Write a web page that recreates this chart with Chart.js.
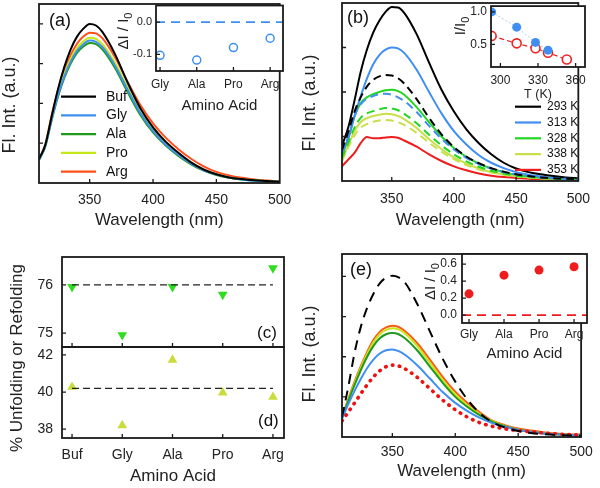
<!DOCTYPE html>
<html lang="en">
<head>
<meta charset="UTF-8" />
<title>Fluorescence panels</title>
<script src="https://cdn.jsdelivr.net/npm/chart.js@4.4.1/dist/chart.umd.min.js"></script>
<style>
  body { margin: 0; background: #fff; }
  #fig { position: relative; width: 600px; height: 488px; overflow: hidden; }
  #fig canvas { position: absolute; }
</style>
</head>
<body>
<div id="fig">
  <canvas id="a-main" width="300" height="244" style="left:0px;top:0px"></canvas>
  <canvas id="a-inset" width="190" height="120" style="left:110px;top:0px"></canvas>
  <canvas id="b-main" width="300" height="244" style="left:300px;top:0px"></canvas>
  <canvas id="b-inset" width="160" height="102" style="left:440px;top:0px"></canvas>
  <canvas id="c-main" width="300" height="244" style="left:0px;top:244px"></canvas>
  <canvas id="d-main" width="300" height="244" style="left:0px;top:244px"></canvas>
  <canvas id="e-main" width="300" height="244" style="left:300px;top:244px"></canvas>
  <canvas id="e-inset" width="200" height="130" style="left:400px;top:244px"></canvas>
</div>
<script>
// ---- data ----
const wavelength = [310,315,320,325,330,335,340,345,350,355,360,370,380,390,400,410,420,430,440,450,460,470,480,490,500];
const spectrumTicks = [350, 400, 450, 500];

// (a) spectra in buffer and with amino acids
const aBuf = [0.60,0.96,1.68,2.36,2.92,3.36,3.68,3.88,4.00,3.96,3.80,3.24,2.52,1.88,1.40,1.04,0.76,0.52,0.34,0.22,0.14,0.10,0.07,0.05,0.03];
const aGly = [0.58,0.93,1.60,2.20,2.68,3.05,3.32,3.49,3.58,3.55,3.42,2.95,2.34,1.76,1.31,0.97,0.71,0.49,0.32,0.21,0.14,0.09,0.06,0.04,0.03];
const aAla = [0.57,0.92,1.58,2.17,2.64,3.00,3.27,3.43,3.52,3.49,3.36,2.89,2.28,1.71,1.27,0.94,0.68,0.47,0.31,0.20,0.13,0.09,0.06,0.04,0.03];
const aPro = [0.58,0.94,1.63,2.25,2.74,3.12,3.39,3.56,3.65,3.62,3.49,3.02,2.40,1.80,1.34,0.99,0.72,0.50,0.33,0.22,0.14,0.10,0.07,0.05,0.03];
const aArg = [0.60,0.98,1.70,2.34,2.84,3.22,3.50,3.68,3.78,3.76,3.64,3.16,2.54,1.96,1.50,1.14,0.85,0.61,0.42,0.28,0.19,0.13,0.09,0.06,0.04];
const acids = ['Gly', 'Ala', 'Pro', 'Arg'];
const aDelta = [-0.103, -0.118, -0.079, -0.050];

// (b) heating (solid) and back at 293 K (dashed)
const b293 = [0.80,1.20,1.80,2.45,2.95,3.33,3.60,3.80,3.91,3.90,3.78,3.30,2.66,2.05,1.56,1.16,0.85,0.60,0.41,0.28,0.20,0.15,0.11,0.08,0.06];
const b313 = [0.64,0.95,1.45,1.90,2.30,2.62,2.83,2.95,3.00,2.98,2.88,2.50,2.00,1.52,1.12,0.82,0.58,0.41,0.29,0.20,0.14,0.10,0.07,0.05,0.04];
const b328 = [0.58,0.95,1.45,1.75,1.88,1.95,2.00,2.04,2.05,2.02,1.94,1.66,1.32,1.00,0.74,0.54,0.39,0.28,0.20,0.14,0.10,0.08,0.06,0.04,0.03];
const b338 = [0.48,0.80,1.12,1.32,1.41,1.46,1.49,1.51,1.50,1.46,1.39,1.19,0.94,0.72,0.53,0.39,0.28,0.20,0.15,0.11,0.08,0.06,0.05,0.04,0.03];
const b353 = [0.33,0.48,0.63,0.85,0.99,0.96,0.96,0.98,0.99,0.97,0.91,0.77,0.60,0.45,0.33,0.24,0.17,0.12,0.09,0.07,0.05,0.04,0.03,0.03,0.02];
const b293back = [0.70,1.10,1.55,1.88,2.12,2.27,2.35,2.38,2.37,2.31,2.19,1.84,1.42,1.05,0.76,0.55,0.40,0.29,0.21,0.15,0.11,0.08,0.06,0.05,0.04];
const b313back = [0.62,1.00,1.45,1.72,1.85,1.91,1.95,1.96,1.94,1.88,1.80,1.55,1.24,0.95,0.71,0.52,0.38,0.28,0.20,0.15,0.11,0.08,0.06,0.05,0.04];
const b328back = [0.52,0.85,1.20,1.42,1.52,1.57,1.61,1.64,1.63,1.59,1.51,1.30,1.04,0.80,0.60,0.44,0.32,0.23,0.17,0.12,0.09,0.07,0.05,0.04,0.03];
const b338back = [0.45,0.75,1.02,1.20,1.28,1.33,1.36,1.37,1.36,1.32,1.26,1.08,0.86,0.66,0.49,0.36,0.26,0.19,0.14,0.10,0.08,0.06,0.04,0.03,0.03];
const temps = [293, 313, 328, 338, 353];
const bFilled = [1.00, 0.765, 0.53, 0.41];
const bOpen = [0.63, 0.515, 0.44, 0.37, 0.265];

// (c) unfolding, (d) refolding
const cdAcids = ['Buf', 'Gly', 'Ala', 'Pro', 'Arg'];
const cUnfold = [75.96, 74.96, 75.96, 75.80, 76.35];
const dRefold = [40.27, 38.20, 41.73, 39.97, 39.73];
const cBuffer = 76.0;
const dBuffer = 40.2;

// (e) refolded spectra
const eNative = [0.50,1.25,2.10,2.75,3.22,3.57,3.83,3.97,4.02,3.98,3.85,3.30,2.62,1.95,1.38,0.92,0.58,0.36,0.23,0.15,0.10,0.07,0.05,0.04,0.03];
const eDenat = [0.40,0.62,0.85,1.08,1.30,1.50,1.65,1.75,1.79,1.77,1.70,1.48,1.20,0.92,0.68,0.49,0.35,0.26,0.20,0.16,0.13,0.10,0.08,0.06,0.05];
const eGly = [0.45,0.82,1.15,1.45,1.72,1.93,2.08,2.16,2.18,2.14,2.05,1.78,1.45,1.12,0.85,0.64,0.47,0.34,0.25,0.18,0.13,0.09,0.07,0.05,0.04];
const eAla = [0.47,0.90,1.30,1.67,2.00,2.27,2.46,2.56,2.59,2.56,2.46,2.15,1.75,1.35,1.00,0.74,0.53,0.37,0.26,0.18,0.13,0.09,0.07,0.05,0.04];
const ePro = [0.48,0.92,1.34,1.73,2.07,2.36,2.56,2.67,2.71,2.68,2.58,2.26,1.84,1.42,1.06,0.78,0.56,0.39,0.27,0.19,0.13,0.10,0.07,0.05,0.04];
const eArg = [0.50,0.95,1.38,1.77,2.12,2.42,2.62,2.73,2.77,2.74,2.64,2.33,1.92,1.50,1.13,0.84,0.60,0.40,0.29,0.21,0.16,0.12,0.09,0.07,0.06];
const eDelta = [0.25, 0.47, 0.53, 0.57];

// ---- drawing ----
const FONT = "'Liberation Sans', Arial, sans-serif";
Chart.defaults.font.family = FONT;
Chart.defaults.color = '#222';
Chart.defaults.animation = false;
Chart.defaults.responsive = false;
Chart.defaults.plugins.legend.display = false;
Chart.defaults.plugins.tooltip.enabled = false;

const xy = (xs, ys) => ys.map((v, i) => ({ x: xs[i], y: v }));
const idx = ys => ys.map((v, i) => ({ x: i, y: v }));

// box around the plot plus inward tick marks
const frame = {
  id: 'frame',
  beforeDraw(chart, args, o) {
    if (!o.fill) return;
    const a = chart.chartArea;
    chart.ctx.save();
    chart.ctx.fillStyle = '#fff';
    chart.ctx.fillRect(a.left, a.top, a.right - a.left, a.bottom - a.top);
    chart.ctx.restore();
  },
  afterDatasetsDraw(chart) {
    const { ctx, chartArea: a, scales } = chart;
    ctx.save();
    ctx.strokeStyle = '#1a1a1a';
    ctx.lineWidth = 1.3;
    ctx.beginPath();
    for (const t of scales.x.ticks) {
      const p = scales.x.getPixelForValue(t.value);
      if (p > a.left + 2 && p < a.right - 2) { ctx.moveTo(p, a.bottom); ctx.lineTo(p, a.bottom - 4); }
    }
    for (const t of scales.y.ticks) {
      const p = scales.y.getPixelForValue(t.value);
      if (p > a.top + 2 && p < a.bottom - 2) { ctx.moveTo(a.left, p); ctx.lineTo(a.left + 4, p); }
    }
    ctx.stroke();
    ctx.lineWidth = 1.8;
    ctx.strokeRect(a.left, a.top, a.right - a.left, a.bottom - a.top);
    ctx.restore();
  }
};

// full-width horizontal reference line
const refLine = {
  id: 'refLine',
  beforeDatasetsDraw(chart, args, o) {
    if (o.value === undefined) return;
    const { ctx, chartArea: a, scales } = chart;
    const p = scales.y.getPixelForValue(o.value);
    ctx.save();
    ctx.strokeStyle = o.color;
    ctx.lineWidth = 1.8;
    ctx.setLineDash(o.dash);
    ctx.beginPath();
    ctx.moveTo(a.left, p);
    ctx.lineTo(a.right, p);
    ctx.stroke();
    ctx.restore();
  }
};

// panel letters like (a)
const tag = {
  id: 'tag',
  afterDraw(chart, args, o) {
    if (!o.text) return;
    const ctx = chart.ctx;
    ctx.save();
    ctx.fillStyle = '#111';
    ctx.font = (o.size || 18) + 'px ' + FONT;
    ctx.textBaseline = 'middle';
    ctx.fillText(o.text, o.x, o.y);
    ctx.restore();
  }
};

// rotated axis titles, with optional subscript
const vtitle = {
  id: 'vtitle',
  afterDraw(chart, args, o) {
    if (!o.text) return;
    const ctx = chart.ctx;
    const size = o.size || 18, ss = Math.round(size * 0.7), sub = o.sub || '';
    ctx.save();
    ctx.translate(o.x, o.y);
    ctx.rotate(-Math.PI / 2);
    ctx.fillStyle = '#222';
    ctx.textBaseline = 'middle';
    ctx.font = size + 'px ' + FONT;
    const w1 = ctx.measureText(o.text).width;
    ctx.font = ss + 'px ' + FONT;
    const w2 = sub ? ctx.measureText(sub).width : 0;
    const x0 = -(w1 + w2) / 2;
    ctx.font = size + 'px ' + FONT;
    ctx.fillText(o.text, x0, 0);
    if (sub) {
      ctx.font = ss + 'px ' + FONT;
      ctx.fillText(sub, x0 + w1, size * 0.32);
    }
    ctx.restore();
  }
};

// legend of line samples inside the plot
const key = {
  id: 'key',
  afterDatasetsDraw(chart, args, o) {
    if (!o.items) return;
    const ctx = chart.ctx;
    ctx.save();
    o.items.forEach((i, k) => {
      const ds = chart.data.datasets[i];
      const y = o.y0 + k * o.dy;
      ctx.strokeStyle = ds.borderColor;
      ctx.lineWidth = 2.2;
      ctx.beginPath();
      ctx.moveTo(o.x0, y);
      ctx.lineTo(o.x1, y);
      ctx.stroke();
      ctx.fillStyle = '#111';
      ctx.font = o.size + 'px ' + FONT;
      ctx.textBaseline = 'middle';
      ctx.fillText(ds.label, o.tx, y);
    });
    ctx.restore();
  }
};

const plugs = [frame, refLine, tag, vtitle, key];

function fixedTicks(values) {
  return s => { s.ticks = values.map(v => ({ value: v })); };
}
function fitX(h) {
  return s => { s.height = h; };
}
// no extra room above/below for the end labels: the box stays where the padding puts it
function fitY(w) {
  return s => { s.width = w; s.paddingTop = 0; s.paddingBottom = 0; };
}

function line(label, ys, color, extra) {
  return Object.assign({
    label, data: xy(wavelength, ys), borderColor: color, borderWidth: 2,
    pointRadius: 0, cubicInterpolationMode: 'monotone', fill: false
  }, extra || {});
}

function spectrum(id, sets, o) {
  return new Chart(document.getElementById(id), {
    type: 'line',
    data: { datasets: sets },
    options: {
      layout: { padding: { top: o.top, right: o.right, left: 0, bottom: 0 } },
      plugins: { tag: o.tag, vtitle: o.vtitle, key: o.key || {} },
      scales: {
        x: {
          type: 'linear', min: 310, max: 500,
          afterBuildTicks: fixedTicks(spectrumTicks),
          afterFit: fitX(o.xh),
          grid: { display: false, drawTicks: false }, border: { display: false },
          ticks: { font: { size: 14 }, padding: o.tickPad, maxRotation: 0, color: '#222' },
          title: { display: true, text: 'Wavelength (nm)', font: { size: 17 }, color: '#222',
                   padding: { top: 0, bottom: o.titlePad } }
        },
        y: {
          type: 'linear', min: 0, max: o.ymax,
          afterBuildTicks: fixedTicks(o.yticks),
          afterFit: fitY(o.yw),
          grid: { display: false, drawTicks: false }, border: { display: false },
          ticks: { display: false }
        }
      }
    },
    plugins: plugs
  });
}

function catAxis(labels, min, max, o) {
  return {
    type: 'linear', min, max,
    afterBuildTicks: fixedTicks(labels.map((l, i) => i)),
    afterFit: fitX(o.h),
    grid: { display: false, drawTicks: false }, border: { display: false },
    ticks: { display: o.show !== false, callback: v => labels[v], font: { size: o.size },
             padding: o.pad, maxRotation: 0, autoSkip: false, color: '#222' },
    title: { display: !!o.title, text: o.title, font: { size: o.tsize }, color: '#222',
             padding: { top: 0, bottom: o.tpad } }
  };
}

function valAxis(min, max, ticks, o) {
  return {
    type: 'linear', min, max,
    afterBuildTicks: fixedTicks(ticks),
    afterFit: fitY(o.w),
    grid: { display: false, drawTicks: false }, border: { display: false },
    ticks: { font: { size: o.size }, padding: o.pad, color: '#222', autoSkip: false,
             callback: v => Number(v).toFixed(o.dec) }
  };
}

// (a)
const BLUE = '#3f8ff2';
spectrum('a-main', [
  line('Buf', aBuf, '#000'),
  line('Gly', aGly, BLUE),
  line('Ala', aAla, '#1f9a1f'),
  line('Pro', aPro, '#c6e61a'),
  line('Arg', aArg, '#ff4e1c')
], {
  top: 4, right: 17, yw: 39, xh: 61, ymax: 4.5, yticks: [1, 2, 3, 4], tickPad: 8.6, titlePad: 13.8,
  tag: { text: '(a)', x: 49, y: 21.5 },
  vtitle: { text: 'Fl. Int. (a.u.)', x: 10, y: 105 },
  key: { items: [0, 1, 2, 3, 4], x0: 61, x1: 96, tx: 106, y0: 96.7, dy: 18.75, size: 14 }
});

new Chart(document.getElementById('a-inset'), {
  type: 'scatter',
  data: { datasets: [{
    data: idx(aDelta), pointRadius: 4, pointBorderWidth: 1.5,
    pointBorderColor: BLUE, pointBackgroundColor: '#fff'
  }] },
  options: {
    layout: { padding: { top: 4, right: 17, left: 0, bottom: 0 } },
    plugins: {
      frame: { fill: true },
      refLine: { value: 0, color: BLUE, dash: [9, 6] },
      vtitle: { text: 'ΔI / I', sub: '0', x: 14, y: 31, size: 15 }
    },
    scales: {
      x: catAxis(acids, -0.11, 3.35, { h: 49, size: 12, pad: 6.8, title: 'Amino Acid', tsize: 15, tpad: 5 }),
      y: valAxis(-0.152, 0.052, [-0.1, 0], { w: 46, size: 11, pad: 4, dec: 1 })
    }
  },
  plugins: plugs
});

// (b)
spectrum('b-main', [
  line('293 K back', b293back, '#000', { borderDash: [8, 5] }),
  line('313 K back', b313back, BLUE, { borderDash: [8, 5] }),
  line('328 K back', b328back, '#22d622', { borderDash: [8, 5] }),
  line('338 K back', b338back, '#c8df4a', { borderDash: [8, 5] }),
  line('293 K', b293, '#000'),
  line('313 K', b313, BLUE),
  line('328 K', b328, '#22d622'),
  line('338 K', b338, '#c8df4a'),
  line('353 K', b353, '#ee1c1c')
], {
  top: 3, right: 13, yw: 42, xh: 63, ymax: 4, yticks: [1, 2, 3], tickPad: 10, titlePad: 13.8,
  tag: { text: '(b)', x: 47, y: 18.5 },
  vtitle: { text: 'Fl. Int. (a.u.)', x: 10, y: 103 },
  key: { items: [4, 5, 6, 7, 8], x0: 215, x1: 241, tx: 247, y0: 106.7, dy: 15.8, size: 12 }
});

new Chart(document.getElementById('b-inset'), {
  type: 'scatter',
  data: { datasets: [
    { data: xy(temps, bFilled), showLine: true, borderColor: '#a9cdf3', borderWidth: 1, borderDash: [2, 2],
      pointRadius: 4.5, pointBorderWidth: 0, pointBackgroundColor: BLUE },
    { data: xy(temps, bOpen), showLine: true, borderColor: '#ee2222', borderWidth: 1.2, borderDash: [5, 3],
      pointRadius: 4.5, pointBorderWidth: 1.6, pointBorderColor: '#ee2222', pointBackgroundColor: '#fff' }
  ] },
  options: {
    layout: { padding: { top: 3, right: 15, left: 0, bottom: 0 } },
    plugins: {
      frame: { fill: true },
      vtitle: { text: 'I/I', sub: '0', x: 21, y: 26, size: 15 }
    },
    scales: {
      x: {
        type: 'linear', min: 292.5, max: 367.5,
        afterBuildTicks: fixedTicks([300, 330, 360]),
        afterFit: fitX(35),
        grid: { display: false, drawTicks: false }, border: { display: false },
        ticks: { font: { size: 12 }, padding: 6, maxRotation: 0, color: '#222' },
        title: { display: true, text: 'T (K)', font: { size: 12.5 }, color: '#222', padding: { top: 0, bottom: 0 } }
      },
      y: valAxis(0.15, 1.09, [0.5, 1.0], { w: 51, size: 12, pad: 4, dec: 1 })
    }
  },
  plugins: plugs
});

// (c) and (d), stacked over each other
const GREEN_C = '#2fdc1e';
const YEL_D = '#c9dc3c';
new Chart(document.getElementById('c-main'), {
  type: 'scatter',
  data: { datasets: [
    { data: cdAcids.map((a, i) => ({ x: i, y: cBuffer })), showLine: true, borderColor: '#222',
      borderWidth: 1.3, borderDash: [7, 4], pointRadius: 0 },
    { data: idx(cUnfold), pointStyle: 'triangle', rotation: 180, pointRadius: 5.6,
      pointBackgroundColor: GREEN_C, pointBorderColor: GREEN_C, pointBorderWidth: 0 }
  ] },
  options: {
    layout: { padding: { top: 13, right: 16, left: 0, bottom: 0 } },
    plugins: { tag: { text: '(c)', x: 257, y: 89.5, size: 17 } },
    scales: {
      x: catAxis(cdAcids, -0.2, 4.22, { h: 141, show: false }),
      y: valAxis(74.71, 76.58, [75, 76], { w: 62, size: 14, pad: 9, dec: 0 })
    }
  },
  plugins: plugs
});

new Chart(document.getElementById('d-main'), {
  type: 'scatter',
  data: { datasets: [
    { data: cdAcids.map((a, i) => ({ x: i, y: dBuffer })), showLine: true, borderColor: '#222',
      borderWidth: 1.3, borderDash: [7, 4], pointRadius: 0 },
    { data: idx(dRefold), pointStyle: 'triangle', pointRadius: 5.6,
      pointBackgroundColor: YEL_D, pointBorderColor: YEL_D, pointBorderWidth: 0 }
  ] },
  options: {
    layout: { padding: { top: 103, right: 16, left: 0, bottom: 0 } },
    plugins: {
      tag: { text: '(d)', x: 258, y: 177.5, size: 17 },
      vtitle: { text: '% Unfolding or Refolding', x: 17, y: 114, size: 17 }
    },
    scales: {
      x: catAxis(cdAcids, -0.2, 4.22, { h: 50, size: 14, pad: 8.6, title: 'Amino Acid', tsize: 17, tpad: 1.8 }),
      y: valAxis(37.52, 42.43, [38, 40, 42], { w: 62, size: 14, pad: 9, dec: 0 })
    }
  },
  plugins: plugs
});

// (e)
spectrum('e-main', [
  line('native', eNative, '#000', { borderDash: [10, 7] }),
  line('denatured', eDenat, '#ee1111', { borderDash: [0.5, 6.5], borderWidth: 3.6, borderCapStyle: 'round' }),
  line('Gly', eGly, BLUE),
  line('Ala', eAla, '#1f9a1f'),
  line('Pro', ePro, '#c6e61a'),
  line('Arg', eArg, '#ff5a14')
], {
  top: 10, right: 13, yw: 42, xh: 51, ymax: 4.56, yticks: [1, 2, 3, 4], tickPad: 7.2, titlePad: 6.8,
  tag: { text: '(e)', x: 50, y: 26 },
  vtitle: { text: 'Fl. Int. (a.u.)', x: 10, y: 110 }
});

new Chart(document.getElementById('e-inset'), {
  type: 'scatter',
  data: { datasets: [{
    data: idx(eDelta), pointRadius: 4.5, pointBorderWidth: 0, pointBackgroundColor: '#ee1c1c'
  }] },
  options: {
    layout: { padding: { top: 10, right: 13, left: 0, bottom: 0 } },
    plugins: {
      frame: { fill: true },
      refLine: { value: 0, color: '#ee1c1c', dash: [9, 6] },
      vtitle: { text: 'ΔI / I', sub: '0', x: 31, y: 37.5, size: 15 }
    },
    scales: {
      x: catAxis(acids, -0.2, 3.37, { h: 51, size: 12, pad: 4.8, title: 'Amino Acid', tsize: 15, tpad: 11 }),
      y: valAxis(-0.094, 0.72, [0, 0.2, 0.4, 0.6], { w: 62, size: 12, pad: 5, dec: 1 })
    }
  },
  plugins: plugs
});
</script>
</body>
</html>
